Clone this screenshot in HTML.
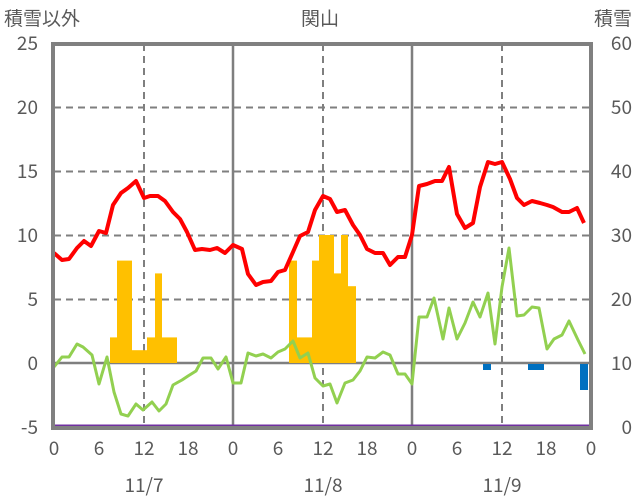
<!DOCTYPE html>
<html><head><meta charset="utf-8"><style>
html,body{margin:0;padding:0;background:#fff}
svg{display:block}
text{font-family:"Noto Sans CJK JP","Liberation Sans",sans-serif;fill:#595959;font-size:19px}
</style></head><body>
<svg width="636" height="501" viewBox="0 0 636 501">
<rect width="636" height="501" fill="#fff"/>
<!-- grid -->
<g stroke="#7f7f7f" stroke-width="2" stroke-dasharray="7,5">
<line x1="54" y1="107.5" x2="591" y2="107.5"/>
<line x1="54" y1="171.5" x2="591" y2="171.5"/>
<line x1="54" y1="235.5" x2="591" y2="235.5"/>
<line x1="54" y1="299.5" x2="591" y2="299.5"/>
<line x1="144" y1="44" x2="144" y2="427"/>
<line x1="323" y1="44" x2="323" y2="427"/>
<line x1="502" y1="44" x2="502" y2="427"/>
</g>
<g stroke="#7f7f7f" stroke-width="2.5">
<line x1="233" y1="44" x2="233" y2="427"/>
<line x1="412" y1="44" x2="412" y2="427"/>
<line x1="54" y1="363" x2="591" y2="363"/>
</g>
<!-- bars -->
<g fill="#ffc000">
<rect x="110" y="337.4" width="7" height="25.6"/>
<rect x="117" y="260.6" width="15" height="102.4"/>
<rect x="132" y="350.2" width="15" height="12.8"/>
<rect x="147" y="337.4" width="8" height="25.6"/>
<rect x="155" y="273.4" width="7" height="89.6"/>
<rect x="162" y="337.4" width="15" height="25.6"/>
<rect x="289" y="260.6" width="8" height="102.4"/>
<rect x="297" y="337.4" width="15" height="25.6"/>
<rect x="312" y="260.6" width="7" height="102.4"/>
<rect x="319" y="235" width="15" height="128"/>
<rect x="334" y="273.4" width="7" height="89.6"/>
<rect x="341" y="235" width="7" height="128"/>
<rect x="348" y="286.2" width="8" height="76.8"/>
</g>
<g fill="#0070c0">
<rect x="483" y="364" width="8" height="6"/>
<rect x="528" y="364" width="16" height="6"/>
<rect x="580" y="364" width="8" height="26"/>
</g>
<!-- red -->
<polyline fill="none" stroke="#ff0000" stroke-width="4" stroke-linejoin="round" points="54,253 62,260 69,259 77,248 84,241 91,246 99,231 106,233 113,205 121,193 128,188 136,181 144,198 150,196 158,196 165,201 173,212 180,219 187,232 195,250 202,249 210,250 217,248 225,253 233,245 242,249 248,274 256,285 263,282 271,281 278,272 285,270 293,252 300,236 308,232 315,210 323,196 330,199 337,212 345,210 353,225 360,235 367,249 375,253 383,253 390,265 398,257 405,257 412,235 419,186 427,184 435,181 442,181 449,167 457,214 465,228 473,223 480,187 488,162 495,164 502,162 510,179 517,198 524,205 532,201 540,203 547,205 553,207 562,212 569,212 577,208 584,223"/>
<!-- green -->
<polyline fill="none" stroke="#92d050" stroke-width="3" stroke-linejoin="round" points="54,367 62,357 69,357 77,344 83,347 92,355 99,384 107,357 114,392 121,414 128,416 136,404 143,410 152,402 159,411 166,404 173,385 182,380 188,376 196,371 203,358 211,358 218,369 226,357 233,383 241,383 248,353 256,356 263,354 271,358 278,352 285,349 293,341 300,358 308,353 315,378 323,386 330,384 337,403 345,383 353,380 360,371 367,357 375,358 383,352 390,355 398,374 405,374 412,384 419,317 427,317 434,298 443,339 449,308 457,339 465,323 473,302 480,317 488,293 495,344 502,287 509,248 517,316 524,315 532,307 539,308 547,349 554,339 562,335 569,321 578,340 585,354"/>
<!-- purple -->
<line x1="54" y1="426" x2="591" y2="426" stroke="#7030a0" stroke-width="3"/>
<!-- frame -->
<rect x="53" y="44" width="538" height="384" fill="none" stroke="#808080" stroke-width="4"/>
<!-- labels -->
<text x="4" y="25">積雪以外</text>
<text x="320" y="25" text-anchor="middle">関山</text>
<text x="632" y="25" text-anchor="end">積雪</text>
<g text-anchor="end">
<text x="38" y="50">25</text><text x="38" y="114">20</text><text x="38" y="178">15</text>
<text x="38" y="242">10</text><text x="38" y="306">5</text><text x="38" y="370">0</text><text x="38" y="434">-5</text>
</g>
<g text-anchor="end">
<text x="632" y="50">60</text><text x="632" y="114">50</text><text x="632" y="178">40</text>
<text x="632" y="242">30</text><text x="632" y="306">20</text><text x="632" y="370">10</text><text x="632" y="434">0</text>
</g>
<g text-anchor="middle">
<text x="54" y="455">0</text><text x="99" y="455">6</text><text x="144" y="455">12</text><text x="188" y="455">18</text>
<text x="233" y="455">0</text><text x="278" y="455">6</text><text x="323" y="455">12</text><text x="367" y="455">18</text>
<text x="412" y="455">0</text><text x="457" y="455">6</text><text x="502" y="455">12</text><text x="546" y="455">18</text>
<text x="591" y="455">0</text>
<text x="144" y="492">11/7</text><text x="323" y="492">11/8</text><text x="502" y="492">11/9</text>
</g>
</svg>
</body></html>
